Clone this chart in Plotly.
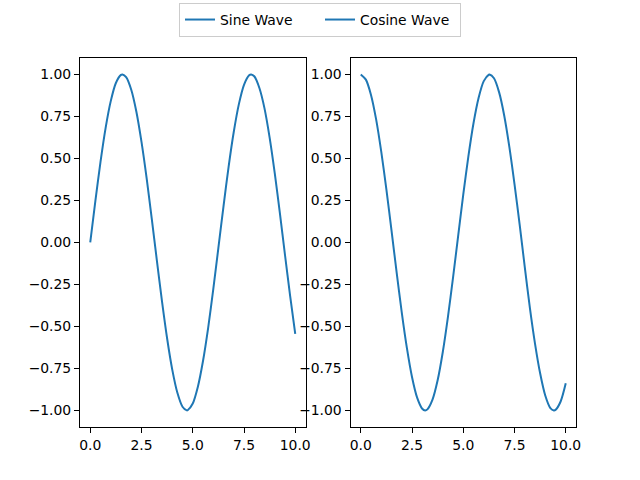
import plotly.graph_objects as go
from plotly.subplots import make_subplots

sine_x = [0.0, 0.25, 0.5, 0.75, 1.0, 1.25, 1.5, 1.57, 1.75, 2.0, 2.25, 2.5, 2.75, 3.0, 3.25, 3.5,
          3.75, 4.0, 4.25, 4.5, 4.71, 4.75, 5.0, 5.25, 5.5, 5.75, 6.0, 6.25, 6.5, 6.75, 7.0, 7.25,
          7.5, 7.75, 7.85, 8.0, 8.25, 8.5, 8.75, 9.0, 9.25, 9.5, 9.75, 10.0]
sine_vals = [0.000, 0.247, 0.479, 0.682, 0.841, 0.949, 0.997, 1.000, 0.984, 0.909, 0.778, 0.598,
             0.382, 0.141, -0.108, -0.351, -0.572, -0.757, -0.895, -0.978, -1.000, -0.999, -0.959,
             -0.859, -0.706, -0.510, -0.279, -0.033, 0.215, 0.451, 0.657, 0.823, 0.938, 0.995,
             1.000, 0.989, 0.919, 0.798, 0.624, 0.412, 0.174, -0.075, -0.319, -0.544]
cosine_x = [0.0, 0.25, 0.5, 0.75, 1.0, 1.25, 1.5, 1.75, 2.0, 2.25, 2.5, 2.75, 3.0, 3.14, 3.25, 3.5,
            3.75, 4.0, 4.25, 4.5, 4.75, 5.0, 5.25, 5.5, 5.75, 6.0, 6.25, 6.28, 6.5, 6.75, 7.0, 7.25,
            7.5, 7.75, 8.0, 8.25, 8.5, 8.75, 9.0, 9.25, 9.42, 9.5, 9.75, 10.0]
cosine_vals = [1.000, 0.969, 0.878, 0.732, 0.540, 0.315, 0.071, -0.178, -0.416, -0.628, -0.801,
               -0.924, -0.990, -1.000, -0.994, -0.936, -0.821, -0.654, -0.446, -0.211, 0.038,
               0.284, 0.512, 0.709, 0.861, 0.960, 0.999, 1.000, 0.977, 0.893, 0.754, 0.567,
               0.347, 0.108, -0.146, -0.390, -0.602, -0.779, -0.911, -0.986, -1.000, -0.997,
               -0.947, -0.839]
series_names = ["Sine Wave", "Cosine Wave"]
x_ticks = [0, 2.5, 5, 7.5, 10]
x_tick_labels = ["0.0", "2.5", "5.0", "7.5", "10.0"]
y_ticks = [-1.0, -0.75, -0.5, -0.25, 0.0, 0.25, 0.5, 0.75, 1.0]
y_tick_labels = ["\u22121.00", "\u22120.75", "\u22120.50", "\u22120.25", "0.00", "0.25", "0.50", "0.75", "1.00"]

color = "#1f77b4"
font = dict(family="DejaVu Sans", size=13.9, color="black")

fig = make_subplots(rows=1, cols=2)
fig.add_trace(go.Scatter(x=sine_x, y=sine_vals, mode="lines", name=series_names[0],
                         line=dict(color=color, width=2, shape="spline", smoothing=0.8)), row=1, col=1)
fig.add_trace(go.Scatter(x=cosine_x, y=cosine_vals, mode="lines", name=series_names[1],
                         line=dict(color=color, width=2, shape="spline", smoothing=0.8)), row=1, col=2)

axis_common = dict(showline=True, linecolor="black", linewidth=1, mirror=True,
                   ticks="outside", ticklen=5, tickwidth=1, tickcolor="black",
                   showgrid=False, zeroline=False, tickfont=font, automargin=False)

fig.update_xaxes(range=[-0.5, 10.5], tickvals=x_ticks, ticktext=x_tick_labels, **axis_common)
fig.update_yaxes(range=[-1.1, 1.1], tickvals=y_ticks, ticktext=y_tick_labels, **axis_common)

fig.update_layout(
    width=640, height=480,
    margin=dict(l=0, r=0, t=0, b=0),
    paper_bgcolor="white", plot_bgcolor="white",
    font=font,
    xaxis=dict(domain=[80 / 640, 305.5 / 640]),
    xaxis2=dict(domain=[350.5 / 640, 576 / 640]),
    yaxis=dict(domain=[0.11, 0.88]),
    yaxis2=dict(domain=[0.11, 0.88]),
    showlegend=True,
    legend=dict(orientation="h", x=0.5, xanchor="center", y=1 - 3 / 480, yanchor="top",
                bordercolor="#cccccc", borderwidth=1, font=font, bgcolor="white",
                entrywidth=95, entrywidthmode="pixels"),
)

fig.write_html("out.html", config={"displayModeBar": False},
               post_script="document.body.style.margin='0';")
